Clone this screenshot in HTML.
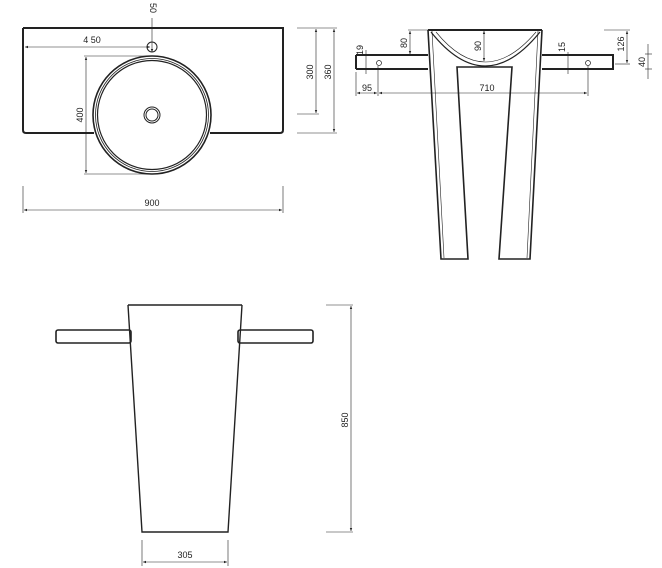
<!DOCTYPE html>
<html><head><style>body{margin:0;background:#fff}svg{display:block}text{font-family:"Liberation Sans",sans-serif;font-size:9px;fill:#222}</style></head><body>
<svg width="662" height="568" viewBox="0 0 662 568" xmlns="http://www.w3.org/2000/svg">
<defs><marker id="a" markerWidth="6" markerHeight="6" refX="5" refY="3" orient="auto-start-reverse"><path d="M0,1 L5,3 L0,5Z" fill="#222"/></marker></defs>
<g fill="none" stroke="#222">
<!-- top view -->
<path d="M23,28 V130 Q23,133 26,133 H94 M210,133 H280 Q283,133 283,130 V28 H23" stroke-width="2"/>
<circle cx="152" cy="115" r="59" stroke-width="1.6"/>
<circle cx="152" cy="115" r="56.5" stroke-width="0.8"/>
<circle cx="152" cy="115" r="54.5" stroke-width="1.2"/>
<circle cx="152" cy="115" r="8" stroke-width="1"/>
<circle cx="152" cy="115" r="6" stroke-width="1"/>
<circle cx="152" cy="47" r="5" stroke-width="1"/>
<g stroke-width="0.6">
<line x1="25" y1="47" x2="150" y2="47" marker-start="url(#a)" marker-end="url(#a)"/>
<line x1="152" y1="18" x2="152" y2="52" marker-end="url(#a)"/>
<line x1="84" y1="56" x2="152" y2="56"/><line x1="84" y1="174" x2="152" y2="174"/>
<line x1="86" y1="57" x2="86" y2="173" marker-start="url(#a)" marker-end="url(#a)"/>
<line x1="297" y1="28" x2="337" y2="28"/><line x1="297" y1="114" x2="319" y2="114"/><line x1="297" y1="133" x2="337" y2="133"/>
<line x1="316" y1="29" x2="316" y2="113" marker-start="url(#a)" marker-end="url(#a)"/>
<line x1="334" y1="29" x2="334" y2="132" marker-start="url(#a)" marker-end="url(#a)"/>
<line x1="23" y1="186" x2="23" y2="213"/><line x1="283" y1="186" x2="283" y2="213"/>
<line x1="24" y1="210" x2="282" y2="210" marker-start="url(#a)" marker-end="url(#a)"/>
</g>
<!-- front view -->
<path d="M428,30 H542 M356,55 H428 M356,69 H428 M356,55 V69 M542,55 H613 V69 H542" stroke-width="2"/>
<path d="M428,30 L441,259 H468 L457,67 H512 L499,259 H530 L542,30" stroke-width="1.6"/>
<path d="M432,31 L444,258 M538,31 L527,258" stroke-width="0.6"/>
<path d="M431,32 Q485,100 540,32" stroke-width="1.2"/>
<path d="M436,32 Q485,92 536,32" stroke-width="0.6"/>
<circle cx="379" cy="63" r="2.5" stroke-width="0.7"/><circle cx="588" cy="63" r="2.5" stroke-width="0.7"/>
<g stroke-width="0.6">
<line x1="408" y1="30" x2="428" y2="30"/><line x1="410" y1="31" x2="410" y2="54" marker-start="url(#a)" marker-end="url(#a)"/>
<line x1="484" y1="31" x2="484" y2="61" marker-start="url(#a)" marker-end="url(#a)"/>
<line x1="366" y1="50" x2="366" y2="74"/>
<line x1="356" y1="72" x2="356" y2="96"/><line x1="378" y1="66" x2="378" y2="96"/><line x1="588" y1="66" x2="588" y2="96"/>
<line x1="357" y1="93" x2="377" y2="93" marker-start="url(#a)" marker-end="url(#a)"/>
<line x1="379" y1="93" x2="587" y2="93" marker-start="url(#a)" marker-end="url(#a)"/>
<line x1="568" y1="52" x2="568" y2="74"/>
<line x1="604" y1="30" x2="630" y2="30"/><line x1="615" y1="64" x2="630" y2="64"/>
<line x1="627" y1="31" x2="627" y2="63" marker-start="url(#a)" marker-end="url(#a)"/>
<line x1="645" y1="54" x2="652" y2="54"/><line x1="645" y1="69" x2="652" y2="69"/>
<line x1="648" y1="44" x2="648" y2="79"/>
</g>
<!-- side view -->
<path d="M128,305 H242 M128,305 L142,532 H228 L242,305" stroke-width="1.4"/>
<rect x="56" y="330" width="75" height="13" rx="2" stroke-width="1.6"/>
<rect x="238" y="330" width="75" height="13" rx="2" stroke-width="1.6"/>
<g stroke-width="0.6">
<line x1="326" y1="305" x2="353" y2="305"/><line x1="326" y1="532" x2="353" y2="532"/>
<line x1="351" y1="306" x2="351" y2="531" marker-start="url(#a)" marker-end="url(#a)"/>
<line x1="142" y1="540" x2="142" y2="566"/><line x1="228" y1="540" x2="228" y2="566"/>
<line x1="143" y1="562" x2="227" y2="562" marker-start="url(#a)" marker-end="url(#a)"/>
</g>
</g>
<text x="92" y="43" text-anchor="middle">4 50</text>
<text x="152" y="206" text-anchor="middle">900</text>
<text transform="translate(150,8) rotate(90)" text-anchor="middle">50</text>
<text transform="translate(83,115) rotate(-90)" text-anchor="middle">400</text>
<text transform="translate(313,72) rotate(-90)" text-anchor="middle">300</text>
<text transform="translate(331,72) rotate(-90)" text-anchor="middle">360</text>
<text x="367" y="91" text-anchor="middle">95</text>
<text x="487" y="91" text-anchor="middle">710</text>
<text transform="translate(407,43) rotate(-90)" text-anchor="middle">80</text>
<text transform="translate(481,46) rotate(-90)" text-anchor="middle">90</text>
<text transform="translate(363,50) rotate(-90)" text-anchor="middle">19</text>
<text transform="translate(565,47) rotate(-90)" text-anchor="middle">15</text>
<text transform="translate(624,44) rotate(-90)" text-anchor="middle">126</text>
<text transform="translate(645,62) rotate(-90)" text-anchor="middle">40</text>
<text transform="translate(348,420) rotate(-90)" text-anchor="middle">850</text>
<text x="185" y="558" text-anchor="middle">305</text>
</svg>
</body></html>
